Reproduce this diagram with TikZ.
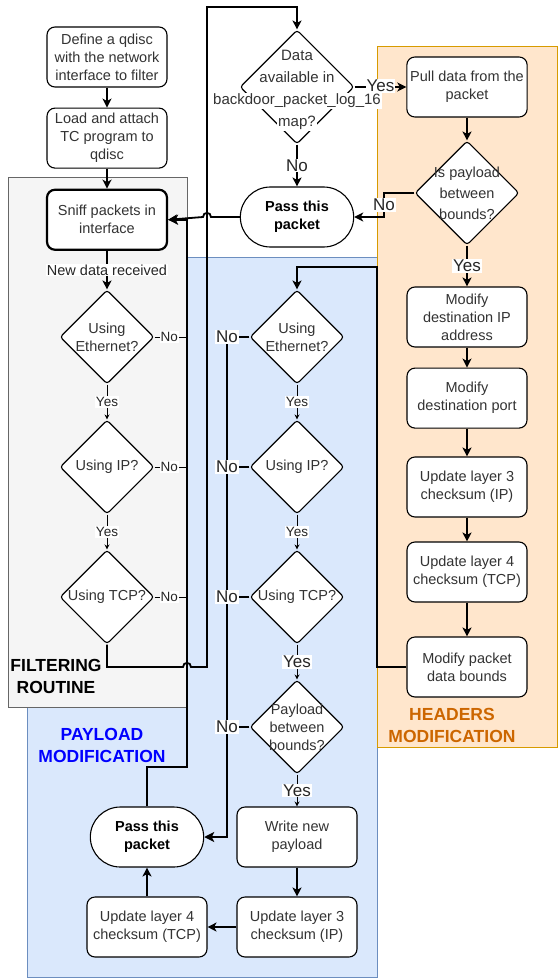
\documentclass[tikz,border=0pt]{standalone}
\usepackage{fontspec}
\setmainfont{Liberation Sans}
\usetikzlibrary{positioning}
\usetikzlibrary{shapes,arrows.meta}
\definecolor{filtbg}{HTML}{F5F5F5}
\definecolor{filtln}{HTML}{666666}
\definecolor{paybg}{HTML}{DAE8FC}
\definecolor{payln}{HTML}{6C8EBF}
\definecolor{hdrbg}{HTML}{FFE6CC}
\definecolor{hdrln}{HTML}{D79B00}
\definecolor{hdrtxt}{HTML}{CC6600}
\definecolor{paytxt}{HTML}{0000FF}
\newcommand{\txtfont}{\fontsize{14.5}{18}\selectfont}
\newcommand{\ynfont}{\fontsize{13.5}{16}\selectfont}
\newcommand{\bigynfont}{\fontsize{17}{20}\selectfont}
\newcommand{\ttlfont}{\fontsize{17.5}{22}\selectfont\bfseries}
\newcommand{\lbg}[1]{{\setlength{\fboxsep}{1pt}\colorbox{white}{#1}}}
\tikzset{proc/.style={draw,rounded corners=8pt,line width=1.1pt,fill=white,minimum width=120pt,minimum height=60pt,align=center,font=\txtfont,text=black!80},
	decision/.style={diamond,draw,rounded corners=3pt,line width=1.1pt,fill=white,minimum size=94pt,inner sep=0pt},
	dtext/.style={align=center,font=\txtfont,text=black!80},
	term/.style={rounded rectangle,draw,line width=1.1pt,fill=white,minimum width=120pt,minimum height=60pt,align=center,font=\txtfont\bfseries},
	yn/.style={fill=white,inner sep=1pt,font=\ynfont,text=black!85},
	bigyn/.style={fill=white,inner sep=1pt,font=\bigynfont,text=black!85},
	flow/.style={line width=1.8pt,-{Stealth[length=9pt,width=9pt,inset=2.5pt]}},
	thinflow/.style={line width=1pt,-{Stealth[length=5pt,width=5pt]}},
	thickflow/.style={line width=2.6pt,-{Stealth[length=10pt,width=10pt,inset=2.5pt]}},
	link/.style={line width=1.5pt},
	thinlink/.style={line width=1pt}}

\begin{document}
\begin{tikzpicture}[x=1pt,y=-1pt]
	\useasboundingbox (0,0) rectangle (558,979);
	% regions
	\draw[payln,fill=paybg,line width=1pt] (27,257) rectangle (377,977);
	\draw[hdrln,fill=hdrbg,line width=1pt] (377,47) rectangle (557,747);
	\draw[filtln,fill=filtbg,line width=1pt] (8,177) rectangle (187,707);
	\node[font=\ttlfont,align=center] (filtT) at (56,676) {FILTERING\\ROUTINE};
	\node[font=\ttlfont,align=center,text=paytxt] (payT) at (102,745) {PAYLOAD\\MODIFICATION};
	\node[font=\ttlfont,align=center,text=hdrtxt] (hdrT) at (452,725) {HEADERS\\MODIFICATION};
	% filtering routine
	\node[proc] (def) at (107,57) {Define a qdisc\\with the network\\interface to filter};
	\node[proc,below=20pt of def] (load) {Load and attach\\TC program to\\qdisc};
	\node[proc,line width=2.2pt,below=20pt of load] (sniff) {Sniff packets in\\interface};
	\node[decision,label={[dtext]center:{Using\\Ethernet?}}] (eth1) at (107,337) {};
	\node[decision,label={[dtext]center:{Using IP?}}] (ip1) at (107,467) {};
	\node[decision,label={[dtext]center:{Using TCP?}}] (tcp1) at (107,597) {};
	% map lookup
	\node[decision,minimum size=114pt,label={[dtext,yshift=-3pt,font=\fontsize{15}{22}\selectfont]center:{\lbg{Data}\\\lbg{available in}\\\lbg{backdoor\_packet\_log\_16}\\\lbg{map?}}}] (data) at (297,87) {};
	\node[term] (pass1) at (297,217) {Pass this\\packet};
	% headers modification
	\node[proc] (pull) at (467,87) {Pull data from the\\packet};
	\node[decision,minimum size=104pt,label={[dtext,font=\fontsize{14.5}{21}\selectfont]center:{Is payload\\between\\bounds?}}] (bounds1) at (467,193) {};
	\node[proc] (dstip) at (467,317) {Modify\\destination IP\\address};
	\node[proc,below=20pt of dstip] (dstport) {Modify\\destination port};
	\node[proc] (l3h) at (467,487) {Update layer 3\\checksum (IP)};
	\node[proc] (l4h) at (467,572) {Update layer 4\\checksum (TCP)};
	\node[proc] (bounds) at (467,667) {Modify packet\\data bounds};
	% payload modification
	\node[decision,label={[dtext]center:{Using\\Ethernet?}}] (eth2) at (297,337) {};
	\node[decision,label={[dtext]center:{Using IP?}}] (ip2) at (297,467) {};
	\node[decision,label={[dtext]center:{Using TCP?}}] (tcp2) at (297,597) {};
	\node[decision,label={[dtext]center:{Payload\\between\\bounds?}}] (pay2) at (297,727) {};
	\node[proc] (write) at (297,837) {Write new\\payload};
	\node[proc] (l3p) at (297,927) {Update layer 3\\checksum (IP)};
	\node[proc] (l4p) at (147,927) {Update layer 4\\checksum (TCP)};
	\node[term] (pass2) at (147,837) {Pass this\\packet};
	\coordinate (rail) at (187,767); \coordinate (norail) at (227,337); \coordinate (hdrrail) at (377,267);
	% connectors
	\draw[flow] (def.south) -- (load.north);
	\draw[flow] (load.south) -- (sniff.north);
	\draw[flow] (sniff.south) -- node[fill=white,inner sep=1pt,font=\txtfont,text=black!85] {New data received} (eth1.north);
	\draw[thinflow] (eth1.south) -- node[yn] {Yes} (ip1.north);
	\draw[thinflow] (ip1.south) -- node[yn] {Yes} (tcp1.north);
	\draw[thickflow] (pass2.north) |- (rail) |- (sniff.east);
	\draw[thinlink] (eth1.east) -- (eth1.east -| rail) node[pos=0.45,yn] {No};
	\draw[thinlink] (ip1.east) -- (ip1.east -| rail) node[pos=0.45,yn] {No};
	\draw[thinlink] (tcp1.east) -- (tcp1.east -| rail) node[pos=0.45,yn] {No};
	\draw[flow] (tcp1.south) |- (183,667) .. controls (183,661.5) and (191,661.5) .. (191,667) -| (207,7) -| (data.north);
	\draw[flow] (data.east) -- node[bigyn,yshift=1pt] {Yes} (pull.west);
	\draw[flow] (data.south) -- node[bigyn] {No} (pass1.north);
	\draw[flow] (pass1.west) -- (211,217) .. controls (211,211.5) and (203,211.5) .. (203,217) -- (sniff.east);
	\draw[flow] (pull.south) -- (bounds1.north);
	\draw[flow] (bounds1.west) -- (384,193) |- node[pos=0.25,bigyn] {No} (pass1.east);
	\draw[flow] (bounds1.south) -- node[bigyn] {Yes} (dstip.north);
	\draw[flow] (dstip.south) -- (dstport.north);
	\draw[flow] (dstport.south) -- (l3h.north);
	\draw[flow] (l3h.south) -- (l4h.north);
	\draw[flow] (l4h.south) -- (bounds.north);
	\draw[flow] (bounds.west) -| (hdrrail) -| (eth2.north);
	\draw[thinflow] (eth2.south) -- node[yn] {Yes} (ip2.north);
	\draw[thinflow] (ip2.south) -- node[yn] {Yes} (tcp2.north);
	\draw[thinflow] (tcp2.south) -- node[bigyn] {Yes} (pay2.north);
	\draw[thinflow] (pay2.south) -- node[bigyn] {Yes} (write.north);
	\draw[thickflow] (eth2.west) -- (norail) node[bigyn] {No} |- (pass2.east);
	\draw[link] (ip2.west) -- (ip2.west -| norail) node[bigyn] {No};
	\draw[link] (tcp2.west) -- (tcp2.west -| norail) node[bigyn] {No};
	\draw[link] (pay2.west) -- (pay2.west -| norail) node[bigyn] {No};
	\draw[flow] (write.south) -- (l3p.north);
	\draw[flow] (l3p.west) -- (l4p.east);
	\draw[flow] (l4p.north) -- (pass2.south);
\end{tikzpicture}
\end{document}
